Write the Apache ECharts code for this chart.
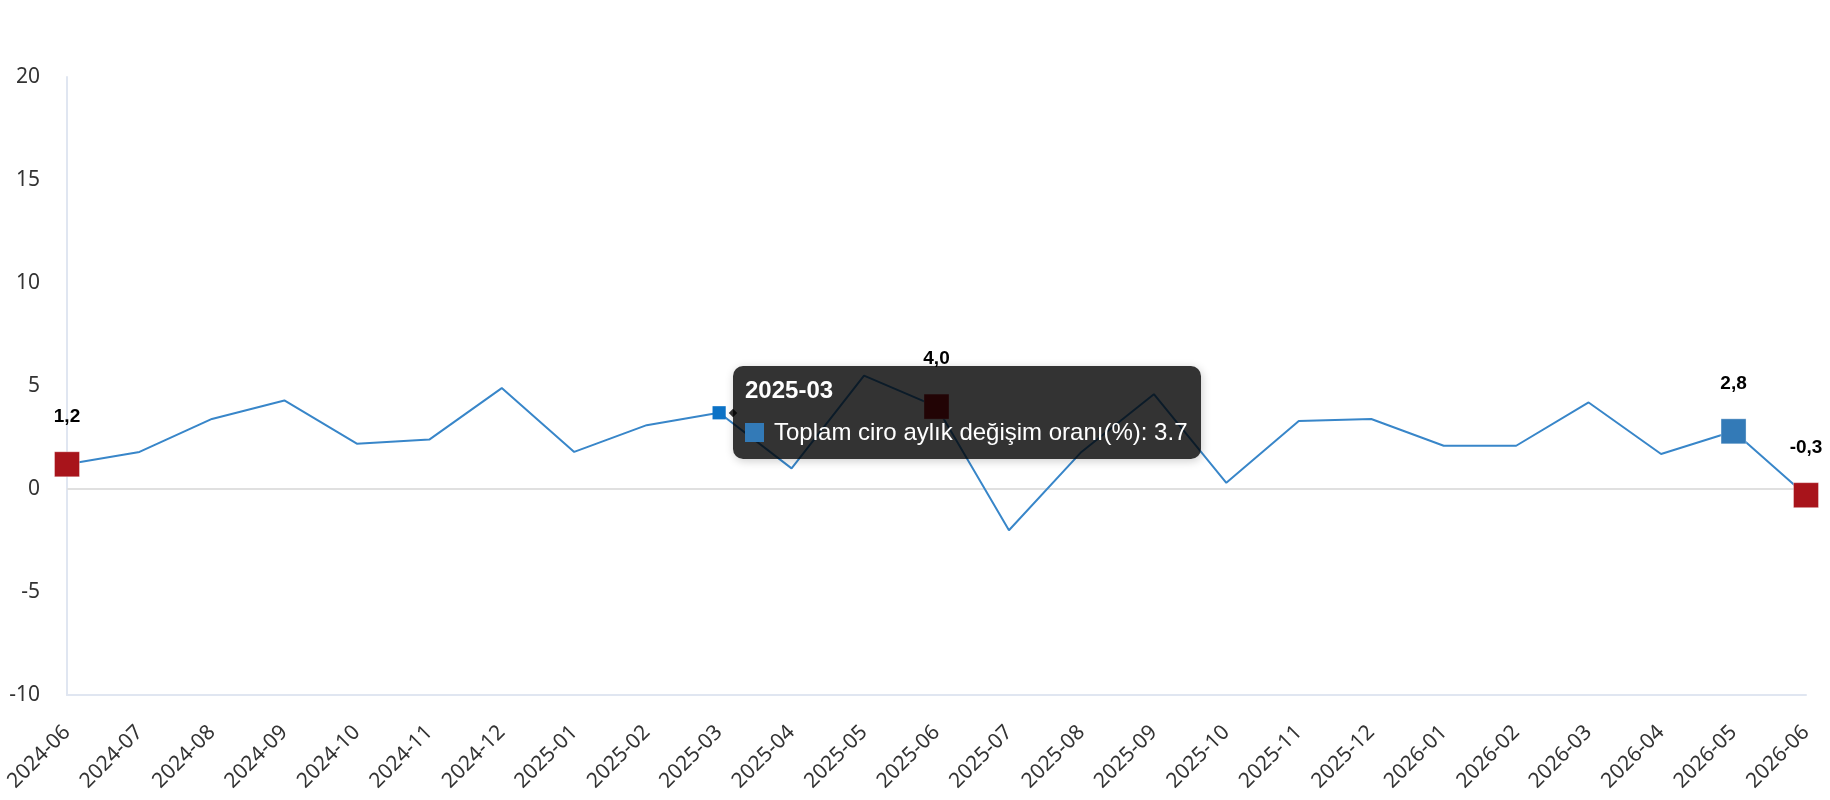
<!DOCTYPE html>
<html>
<head>
<meta charset="utf-8">
<script src="https://cdn.jsdelivr.net/npm/echarts@6/dist/echarts.min.js"></script>
<style>
  html, body { margin: 0; padding: 0; background: #fff; }
  #chart { width: 1830px; height: 800px; }
</style>
</head>
<body>
<div id="chart"></div>
<script>
// aylar ve aylik degisim (%)
var months = ['2024-06', '2024-07', '2024-08', '2024-09', '2024-10', '2024-11', '2024-12',
    '2025-01', '2025-02', '2025-03', '2025-04', '2025-05', '2025-06', '2025-07', '2025-08',
    '2025-09', '2025-10', '2025-11', '2025-12', '2026-01', '2026-02', '2026-03', '2026-04',
    '2026-05', '2026-06'];
var values = [1.2, 1.8, 3.4, 4.3, 2.2, 2.4, 4.9, 1.8, 3.1, 3.7, 1.0, 5.5, 4.0, -2.0, 1.8,
    4.6, 0.3, 3.3, 3.4, 2.1, 2.1, 4.2, 1.7, 2.8, -0.3];
var seriesName = 'Toplam ciro aylık değişim oranı(%)';
var redMonths = ['2024-06', '2025-06', '2026-06'];
var blueMonths = ['2026-05'];
var tipMonth = '2025-03';
var yTicks = [-10, -5, 0, 5, 10, 15, 20];

var myChart = echarts.init(document.getElementById('chart'));

function fmt(v) {
    return v.toFixed(1).replace('.', ',');
}

var seriesData = values.map(function (v, i) {
    var m = months[i];
    var color = null;
    if (redMonths.indexOf(m) >= 0) color = '#a8141b';
    if (blueMonths.indexOf(m) >= 0) color = '#337ab7';
    if (color) {
        return {
            value: v,
            symbolSize: 25,
            itemStyle: { color: color, borderColor: 'rgba(255,255,255,0.35)', borderWidth: 1 },
            label: {
                show: true,
                position: 'top',
                distance: 25,
                formatter: function (p) { return fmt(p.value); },
                color: '#000',
                fontWeight: 'bold',
                fontSize: 19,
                fontFamily: 'Arial, "Liberation Sans", sans-serif'
            }
        };
    }
    return {
        value: v,
        itemStyle: { color: 'rgba(0,0,0,0)' },
        emphasis: { itemStyle: { color: '#0b72c6' } }
    };
});

var option = {
    animation: false,
    grid: { left: 67, right: 24, top: 77, bottom: 105 },
    tooltip: {
        trigger: 'item',
        position: 'right',
        alwaysShowContent: true,
        transitionDuration: 0,
        backgroundColor: 'rgba(0,0,0,0.8)',
        borderWidth: 0,
        borderRadius: 10,
        padding: [10, 14, 12, 12],
        textStyle: { color: '#fff', fontFamily: 'Arial, "Liberation Sans", sans-serif' },
        formatter: function (p) {
            return '<div style="font-weight:bold;font-size:24px;line-height:28px;margin-bottom:13px">' + p.name + '</div>' +
                '<div style="font-size:24px;line-height:30px;white-space:nowrap">' +
                '<span style="display:inline-block;width:19px;height:19px;background:#337ab7;margin-right:10px;vertical-align:-2px"></span>' +
                seriesName + ': ' + p.value + '</div>';
        }
    },
    xAxis: {
        type: 'category',
        data: months,
        boundaryGap: false,
        axisLine: { onZero: false, lineStyle: { color: '#e0e6f1', width: 2 } },
        axisTick: { show: false },
        axisLabel: {
            rotate: 45,
            interval: 0,
            margin: 34,
            color: '#333',
            fontSize: 21,
            fontFamily: '"Noto Sans", sans-serif'
        }
    },
    yAxis: {
        type: 'value',
        min: yTicks[0],
        max: yTicks[yTicks.length - 1],
        interval: 5,
        axisLine: { show: true, lineStyle: { color: '#e0e6f1', width: 2 } },
        axisTick: { show: false },
        splitLine: { show: false },
        axisLabel: {
            margin: 27,
            color: '#333',
            fontSize: 21,
            fontFamily: '"Noto Sans", sans-serif'
        }
    },
    series: [{
        name: seriesName,
        type: 'line',
        data: seriesData,
        symbol: 'rect',
        symbolSize: 12,
        showSymbol: true,
        lineStyle: { color: '#337ab7', width: 2 },
        itemStyle: { color: '#337ab7' },
        markLine: {
            silent: true,
            symbol: 'none',
            z: 1,
            label: { show: false },
            lineStyle: { color: '#e0e0e0', width: 2, type: 'solid' },
            data: [{ yAxis: 0 }]
        }
    }]
};

myChart.setOption(option);

var tipIndex = months.indexOf(tipMonth);
myChart.dispatchAction({ type: 'highlight', seriesIndex: 0, dataIndex: tipIndex });
myChart.dispatchAction({ type: 'showTip', seriesIndex: 0, dataIndex: tipIndex });

window.addEventListener('resize', function () {
    myChart.resize();
});
</script>
</body>
</html>
